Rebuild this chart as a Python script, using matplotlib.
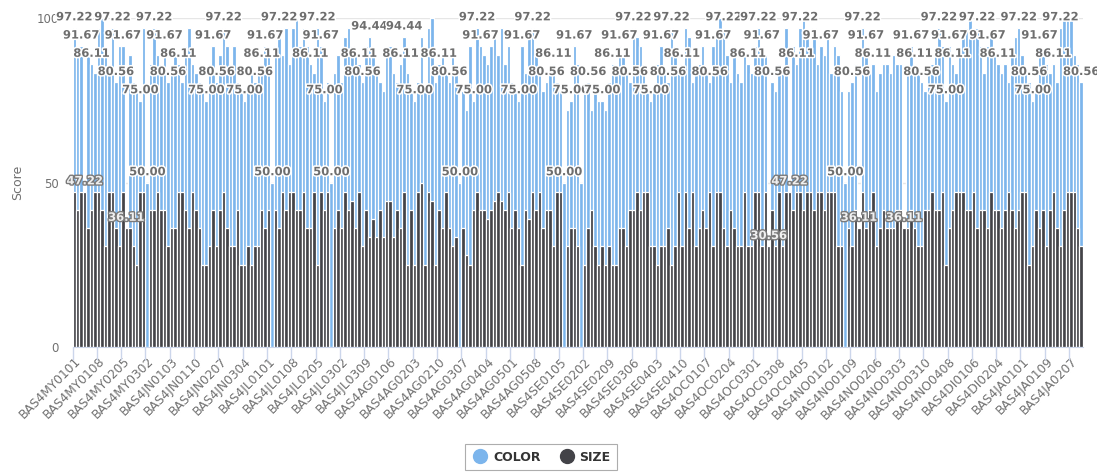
import numpy as np
import matplotlib
matplotlib.use("Agg")
import matplotlib.pyplot as plt
import matplotlib.patheffects as pe
from matplotlib.lines import Line2D

# scores per category (None = no value for that series)
COLOR_SCORES = [
    97.22, 91.67, 91.67, None, 88.89, 86.11, 83.33, 97.22, 100, 88.89,
    83.33, 97.22, 80.56, 91.67, 91.67, None, 88.89, 80.56, 77.78, 75,
    97.22, 50, 86.11, 97.22, 88.89, 86.11, 91.67, 80.56, 83.33, 88.89,
    86.11, 80.56, 91.67, 97.22, 86.11, 83.33, 80.56, 77.78, 75, 86.11,
    91.67, 80.56, 88.89, 97.22, 91.67, 86.11, 91.67, 80.56, 77.78, 75,
    77.78, 83.33, 80.56, 83.33, 86.11, 91.67, 88.89, 50, 91.67, 97.22,
    88.89, 97.22, 86.11, 97.22, 100, 91.67, 97.22, 91.67, 86.11, 83.33,
    97.22, 91.67, 75, 80.56, 50, 83.33, 88.89, 80.56, 94.44, 97.22,
    91.67, 88.89, 86.11, 80.56, 91.67, 94.44, 88.89, 83.33, 80.56, 77.78,
    88.89, 91.67, 83.33, 80.56, 86.11, 94.44, 83.33, 77.78, 75, 80.56,
    94.44, 77.78, 97.22, 100, 80.56, 86.11, 88.89, 83.33, 80.56, 91.67,
    83.33, 50, 77.78, 72.22, 91.67, 75, 97.22, 91.67, 88.89, 86.11,
    91.67, 94.44, 88.89, 97.22, 86.11, 91.67, 80.56, 77.78, 75, 91.67,
    83.33, 94.44, 97.22, 88.89, 83.33, 77.78, 80.56, 83.33, 86.11, 80.56,
    77.78, 50, 72.22, 75, 91.67, 86.11, 50, 77.78, 80.56, 72.22,
    77.78, 75, 75, 72.22, 80.56, 86.11, 83.33, 91.67, 88.89, 83.33,
    80.56, 97.22, 94.44, 91.67, 86.11, 77.78, 75, 77.78, 86.11, 91.67,
    83.33, 80.56, 97.22, 91.67, 83.33, 86.11, 97.22, 94.44, 80.56, 83.33,
    86.11, 91.67, 83.33, 80.56, 91.67, 94.44, 100, 97.22, 88.89, 80.56,
    91.67, 83.33, 80.56, 88.89, 86.11, 83.33, 91.67, 97.22, 91.67, 88.89,
    None, 80.56, 77.78, 86.11, 83.33, 97.22, None, 91.67, 86.11, 97.22,
    100, 94.44, 88.89, 97.22, 86.11, 91.67, 88.89, 94.44, 83.33, 91.67,
    88.89, 77.78, 50, 77.78, 80.56, 86.11, None, 97.22, 91.67, 83.33,
    86.11, 77.78, 83.33, 86.11, 86.11, 83.33, 88.89, 86.11, 86.11, None,
    83.33, 91.67, 86.11, 83.33, 80.56, 77.78, 83.33, 86.11, 88.89, 97.22,
    91.67, 75, 91.67, 86.11, 83.33, 88.89, 94.44, 97.22, 100, 94.44,
    97.22, 91.67, 83.33, 91.67, 94.44, 88.89, 86.11, 83.33, 86.11, 80.56,
    91.67, 94.44, 97.22, 88.89, 83.33, 80.56, 75, 77.78, 91.67, 88.89,
    86.11, 83.33, 86.11, 80.56, 97.22, 100, 100, 100, 88.89, 86.11,
    80.56,
]

SIZE_SCORES = [
    47.22, 41.67, 47.22, 47.22, 36.11, 41.67, 47.22, 47.22, 41.67, 30.56,
    47.22, 47.22, 36.11, 30.56, 47.22, 36.11, 36.11, 30.56, 25, 47.22,
    47.22, None, 41.67, 41.67, 47.22, 41.67, 41.67, 30.56, 36.11, 36.11,
    47.22, 47.22, 41.67, 36.11, 47.22, 41.67, 36.11, 25, 25, 30.56,
    41.67, 30.56, 41.67, 47.22, 36.11, 30.56, 30.56, 41.67, 25, 25,
    30.56, 25, 30.56, 30.56, 41.67, 36.11, 41.67, None, 41.67, 36.11,
    47.22, 41.67, 47.22, 47.22, 41.67, 41.67, 47.22, 36.11, 36.11, 47.22,
    25, 47.22, 41.67, 47.22, None, 36.11, 41.67, 36.11, 47.22, 41.67,
    44.44, 36.11, 47.22, 30.56, 41.67, 33.33, 38.89, 33.33, 41.67, 33.33,
    44.44, 44.44, 33.33, 41.67, 36.11, 47.22, 25, 41.67, 25, 47.22,
    50, 25, 47.22, 44.44, 25, 41.67, 36.11, 47.22, 36.11, 30.56,
    33.33, None, 36.11, 27.78, 25, 41.67, 47.22, 41.67, 41.67, 38.89,
    41.67, 44.44, 47.22, 44.44, 41.67, 47.22, 36.11, 41.67, 36.11, 25,
    41.67, 38.89, 47.22, 41.67, 47.22, 36.11, 41.67, 41.67, 30.56, 47.22,
    47.22, None, 30.56, 36.11, 36.11, 30.56, None, 25, 36.11, 41.67,
    30.56, 25, 30.56, 25, 30.56, 25, 25, 36.11, 36.11, 30.56,
    41.67, 41.67, 47.22, 41.67, 47.22, 47.22, 30.56, 30.56, 25, 30.56,
    30.56, 36.11, 25, 30.56, 47.22, 30.56, 47.22, 36.11, 47.22, 30.56,
    36.11, 41.67, 36.11, 47.22, 30.56, 47.22, 47.22, 36.11, 30.56, 41.67,
    36.11, 30.56, 30.56, 47.22, 30.56, 30.56, 47.22, 47.22, 30.56, 47.22,
    30.56, 41.67, 30.56, 47.22, 30.56, 47.22, 47.22, 41.67, 47.22, 47.22,
    41.67, 47.22, 47.22, 41.67, 47.22, 47.22, 41.67, 47.22, 47.22, 47.22,
    30.56, 30.56, None, 36.11, 30.56, 41.67, 36.11, 47.22, 36.11, 41.67,
    47.22, 30.56, 36.11, 41.67, 36.11, 36.11, 36.11, 41.67, 41.67, 36.11,
    36.11, 41.67, 36.11, 30.56, 30.56, 41.67, 41.67, 47.22, 41.67, 41.67,
    47.22, 25, 36.11, 41.67, 47.22, 47.22, 47.22, 41.67, 41.67, 47.22,
    36.11, 41.67, 41.67, 36.11, 47.22, 41.67, 41.67, 36.11, 41.67, 47.22,
    41.67, 36.11, 41.67, 47.22, 47.22, 25, 30.56, 41.67, 36.11, 41.67,
    30.56, 41.67, 47.22, 36.11, 30.56, 41.67, 47.22, 47.22, 47.22, 36.11,
    30.56,
]

# which points still show their data label (the rest are hidden by overlap)
COLOR_LABEL_IDX = [0, 2, 5, 11, 12, 14, 19, 21, 23, 26, 27, 30, 38, 40, 41, 43,
                   49, 52, 54, 55, 57, 59, 68, 70, 71, 72, 74, 82, 83, 85, 94,
                   95, 98, 105, 108, 111, 115, 116, 117, 128, 129, 132, 136,
                   138, 141, 143, 144, 148, 152, 155, 157, 160, 161, 166, 169,
                   171, 172, 175, 183, 184, 187, 194, 197, 198, 201, 208, 209,
                   215, 222, 224, 227, 228, 230, 241, 242, 244, 249, 251, 252,
                   253, 260, 263, 266, 272, 275, 276, 278, 282, 284, 290]
SIZE_LABEL_IDX = [3, 15, 200, 206, 226, 239]

TICK_STEP = 7
TICK_LABELS = [
    "BAS4MY0101", "BAS4MY0108", "BAS4MY0205", "BAS4MY0302", "BAS4JN0103",
    "BAS4JN0110", "BAS4JN0207", "BAS4JN0304", "BAS4JL0101", "BAS4JL0108",
    "BAS4JL0205", "BAS4JL0302", "BAS4JL0309", "BAS4AG0106", "BAS4AG0203",
    "BAS4AG0210", "BAS4AG0307", "BAS4AG0404", "BAS4AG0501", "BAS4AG0508",
    "BAS4SE0105", "BAS4SE0202", "BAS4SE0209", "BAS4SE0306", "BAS4SE0403",
    "BAS4SE0410", "BAS4OC0107", "BAS4OC0204", "BAS4OC0301", "BAS4OC0308",
    "BAS4OC0405", "BAS4NO0102", "BAS4NO0109", "BAS4NO0206", "BAS4NO0303",
    "BAS4NO0310", "BAS4NO0408", "BAS4DI0106", "BAS4DI0204", "BAS4JA0101",
    "BAS4JA0109", "BAS4JA0207",
]

BLUE = "#7cb5ec"
DARK = "#434348"
GRAY = "#707070"


def to_arr(vals):
    return np.array([np.nan if v is None else v for v in vals], dtype=float)


color = to_arr(COLOR_SCORES)
size = to_arr(SIZE_SCORES)
x = np.arange(len(color))

fig = plt.figure(figsize=(10.97, 4.73), dpi=100)
ax = fig.add_axes([0.0661, 0.2674, 0.9211, 0.6935])

ax.bar(x[~np.isnan(color)], color[~np.isnan(color)], width=1.0, color=BLUE,
       edgecolor="white", linewidth=0.9, zorder=2)
ax.bar(x[~np.isnan(size)], size[~np.isnan(size)], width=1.0, color=DARK,
       edgecolor="white", linewidth=0.9, zorder=3)

outline_w = [pe.withStroke(linewidth=2.2, foreground="white")]
for i in COLOR_LABEL_IDX:
    ax.text(i, color[i] + 1.3, f"{color[i]:.2f}", ha="center", va="bottom",
            fontsize=8.3, fontweight="bold", color="#6e6e6e",
            path_effects=outline_w, zorder=5, clip_on=False)
outline_d = [pe.withStroke(linewidth=2.0, foreground="#7a7a7a")]
for i in SIZE_LABEL_IDX:
    ax.text(i, size[i] + 1.3, f"{size[i]:.2f}", ha="center", va="bottom",
            fontsize=8.3, fontweight="bold", color="#f0f0f0",
            path_effects=outline_d, zorder=5, clip_on=False)

ax.set_xlim(-0.5, len(color) - 0.5)
ax.set_ylim(0, 100)
ax.set_yticks([0, 50, 100])
ax.set_yticklabels(["0", "50", "100"])
ax.yaxis.grid(True, color="#e6e6e6", linewidth=1)
ax.set_axisbelow(True)
ax.tick_params(axis="y", length=0, labelsize=8.5, labelcolor=GRAY, pad=10)
ax.set_ylabel("Score", fontsize=9, color=GRAY, labelpad=9)

tick_pos = np.arange(len(TICK_LABELS)) * TICK_STEP
ax.set_xticks(tick_pos)
ax.set_xticklabels(TICK_LABELS, rotation=45, ha="right", va="top",
                   rotation_mode="anchor")
ax.tick_params(axis="x", length=0, labelsize=8.8, labelcolor=GRAY, pad=6)
ax.set_xticks(tick_pos - 0.5, minor=True)
ax.tick_params(axis="x", which="minor", length=9, color="#ccd6eb", width=1)

for s in ["top", "right", "left"]:
    ax.spines[s].set_visible(False)
ax.spines["bottom"].set_color("#ccd6eb")

handles = [
    Line2D([], [], marker="o", linestyle="none", markersize=10,
           markerfacecolor=BLUE, markeredgecolor=BLUE, label="COLOR"),
    Line2D([], [], marker="o", linestyle="none", markersize=10,
           markerfacecolor=DARK, markeredgecolor=DARK, label="SIZE"),
]
leg = fig.legend(handles=handles, loc="center", ncol=2,
                 bbox_to_anchor=(541 / 1097, 1 - 457 / 473), frameon=True,
                 fancybox=False, edgecolor="#999999", handletextpad=0.3,
                 columnspacing=1.4, borderpad=0.5, handlelength=1.4,
                 prop={"size": 9, "weight": "bold"})
leg.get_frame().set_linewidth(0.8)
for t in leg.get_texts():
    t.set_color("#333333")

fig.savefig("out.png", dpi=100)
plt.close(fig)
